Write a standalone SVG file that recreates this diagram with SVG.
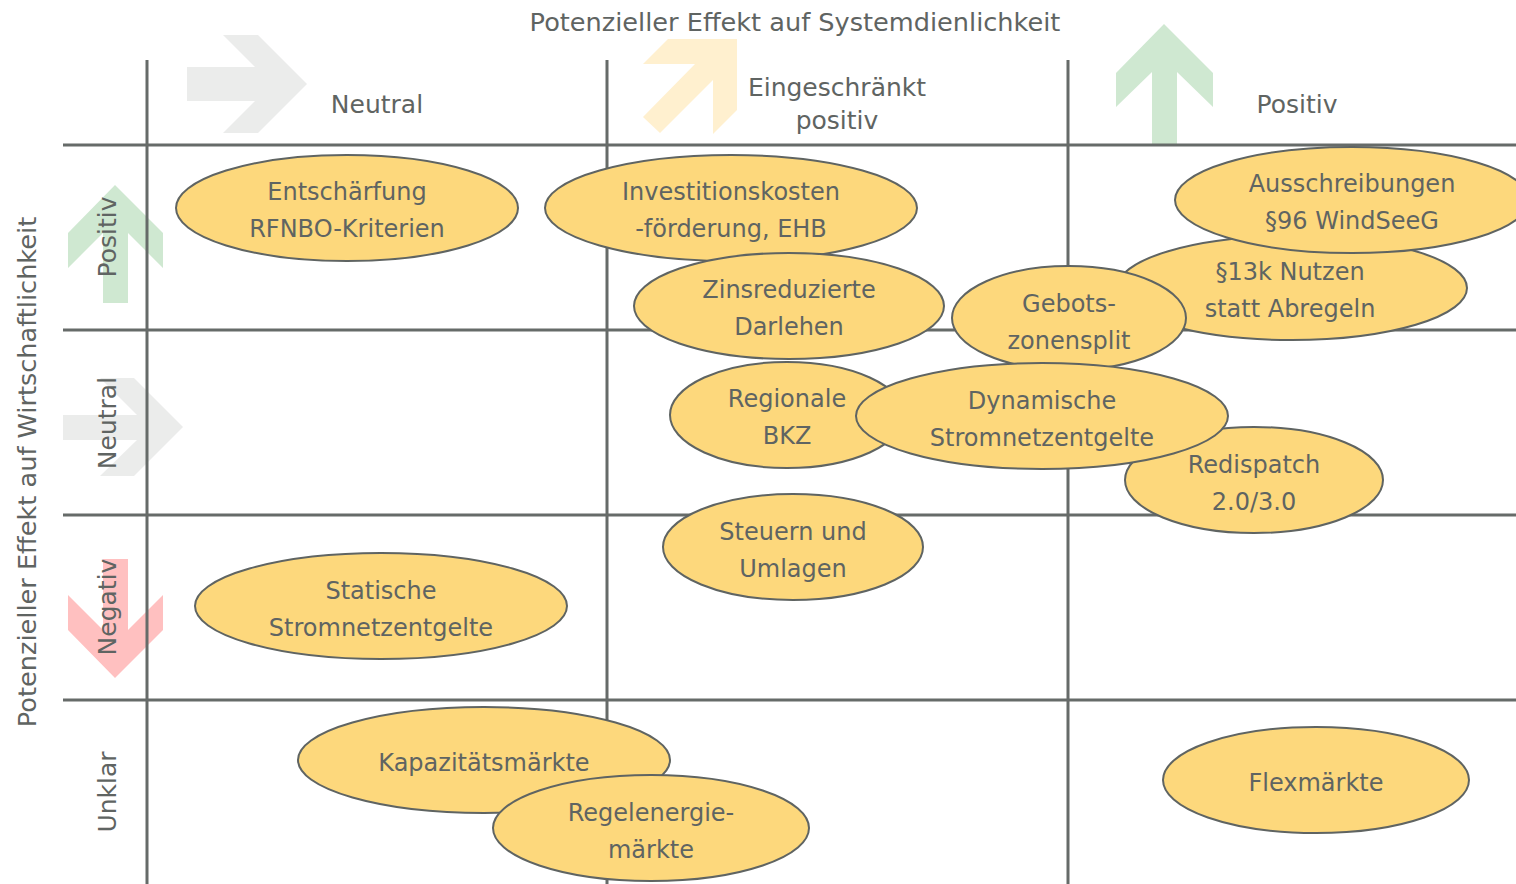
<svg xmlns="http://www.w3.org/2000/svg" width="1516" height="884" viewBox="0 0 1516 884">
<style>
text{font-family:"DejaVu Sans","Liberation Sans",sans-serif;fill:#5f6462;}
.hd{font-size:25px;}
.ax{font-size:25.6px;}
.lb{font-size:24px;text-anchor:middle;}
.grid line{stroke:#666b69;stroke-width:3;}
.node ellipse{fill:#fdd87c;stroke:#5f6462;stroke-width:2;}
</style>
<rect width="1516" height="884" fill="#ffffff"/>
<g id="arrows">
<polygon fill="#ebeceb" points="187,67 255,67 223,35 258,35 307,84 258,133 223,133 255,101 187,101"/>
<polygon fill="#fff0cf" points="737,39 737,110 713,134 713,80 660,133 643,117 695,64 643,64 668,39"/>
<polygon fill="#cfe8d1" points="1164,24 1213,73 1213,107 1177,72 1177,145 1152,145 1152,72 1116,107 1116,73"/>
<polygon fill="#cfe8d1" points="115,185 163,233 163,268 128,233 128,303 103,303 103,233 68,268 68,233"/>
<polygon fill="#ebeceb" points="63,415 137,415 100,378 134,378 183,427 134,476 100,476 137,440 63,440"/>
<polygon fill="#ffc0c0" points="103,559 128,559 128,630 163,595 163,630 115,678 68,630 68,595 103,630"/>
</g>
<g class="grid" id="grid">
<line x1="147" y1="60" x2="147" y2="884"/>
<line x1="607" y1="60" x2="607" y2="884"/>
<line x1="1068" y1="60" x2="1068" y2="884"/>
<line x1="63" y1="145" x2="1516" y2="145"/>
<line x1="63" y1="330" x2="1516" y2="330"/>
<line x1="63" y1="515" x2="1516" y2="515"/>
<line x1="63" y1="700" x2="1516" y2="700"/>
</g>
<g id="axis-labels">
<text class="ax" x="795" y="31" text-anchor="middle">Potenzieller Effekt auf Systemdienlichkeit</text>
<text class="ax" transform="translate(36,472) rotate(-90)" text-anchor="middle">Potenzieller Effekt auf Wirtschaftlichkeit</text>
<text class="hd" x="377" y="113" text-anchor="middle">Neutral</text>
<text class="hd" x="837" y="96" text-anchor="middle">Eingeschränkt</text>
<text class="hd" x="837" y="129" text-anchor="middle">positiv</text>
<text class="hd" x="1297" y="113" text-anchor="middle">Positiv</text>
<text class="hd" transform="translate(116,237) rotate(-90)" text-anchor="middle">Positiv</text>
<text class="hd" transform="translate(116,423) rotate(-90)" text-anchor="middle">Neutral</text>
<text class="hd" transform="translate(116,607) rotate(-90)" text-anchor="middle">Negativ</text>
<text class="hd" transform="translate(116,792) rotate(-90)" text-anchor="middle">Unklar</text>
</g>
<g class="node" id="n-entschaerfung"><ellipse cx="347" cy="208" rx="171" ry="53"/><text class="lb" x="347" y="200">Entschärfung</text><text class="lb" x="347" y="237">RFNBO-Kriterien</text></g>
<g class="node" id="n-investition"><ellipse cx="731" cy="208" rx="186" ry="53"/><text class="lb" x="731" y="200">Investitionskosten</text><text class="lb" x="731" y="237">-förderung, EHB</text></g>
<g class="node" id="n-zins"><ellipse cx="789" cy="306" rx="155" ry="53"/><text class="lb" x="789" y="298">Zinsreduzierte</text><text class="lb" x="789" y="335">Darlehen</text></g>
<g class="node" id="n-13k"><ellipse cx="1292" cy="288" rx="175" ry="52"/><text class="lb" x="1290" y="280">§13k Nutzen</text><text class="lb" x="1290" y="317">statt Abregeln</text></g>
<g class="node" id="n-ausschreibungen"><ellipse cx="1352" cy="200" rx="177" ry="53"/><text class="lb" x="1352" y="192">Ausschreibungen</text><text class="lb" x="1352" y="229">§96 WindSeeG</text></g>
<g class="node" id="n-gebots"><ellipse cx="1069" cy="318" rx="117" ry="52"/><text class="lb" x="1069" y="312">Gebots-</text><text class="lb" x="1069" y="349">zonensplit</text></g>
<g class="node" id="n-regionale"><ellipse cx="787" cy="415" rx="117" ry="53"/><text class="lb" x="787" y="407">Regionale</text><text class="lb" x="787" y="444">BKZ</text></g>
<g class="node" id="n-redispatch"><ellipse cx="1254" cy="480" rx="129" ry="53"/><text class="lb" x="1254" y="473">Redispatch</text><text class="lb" x="1254" y="510">2.0/3.0</text></g>
<g class="node" id="n-dynamisch"><ellipse cx="1042" cy="416" rx="186" ry="53"/><text class="lb" x="1042" y="409">Dynamische</text><text class="lb" x="1042" y="446">Stromnetzentgelte</text></g>
<g class="node" id="n-steuern"><ellipse cx="793" cy="547" rx="130" ry="53"/><text class="lb" x="793" y="540">Steuern und</text><text class="lb" x="793" y="577">Umlagen</text></g>
<g class="node" id="n-statisch"><ellipse cx="381" cy="606" rx="186" ry="53"/><text class="lb" x="381" y="599">Statische</text><text class="lb" x="381" y="636">Stromnetzentgelte</text></g>
<g class="node" id="n-kapazitaet"><ellipse cx="484" cy="760" rx="186" ry="53"/><text class="lb" x="484" y="771">Kapazitätsmärkte</text></g>
<g class="node" id="n-regelenergie"><ellipse cx="651" cy="828" rx="158" ry="53"/><text class="lb" x="651" y="821">Regelenergie-</text><text class="lb" x="651" y="858">märkte</text></g>
<g class="node" id="n-flex"><ellipse cx="1316" cy="780" rx="153" ry="53"/><text class="lb" x="1316" y="791">Flexmärkte</text></g>
<g id="connectors"/>
</svg>
